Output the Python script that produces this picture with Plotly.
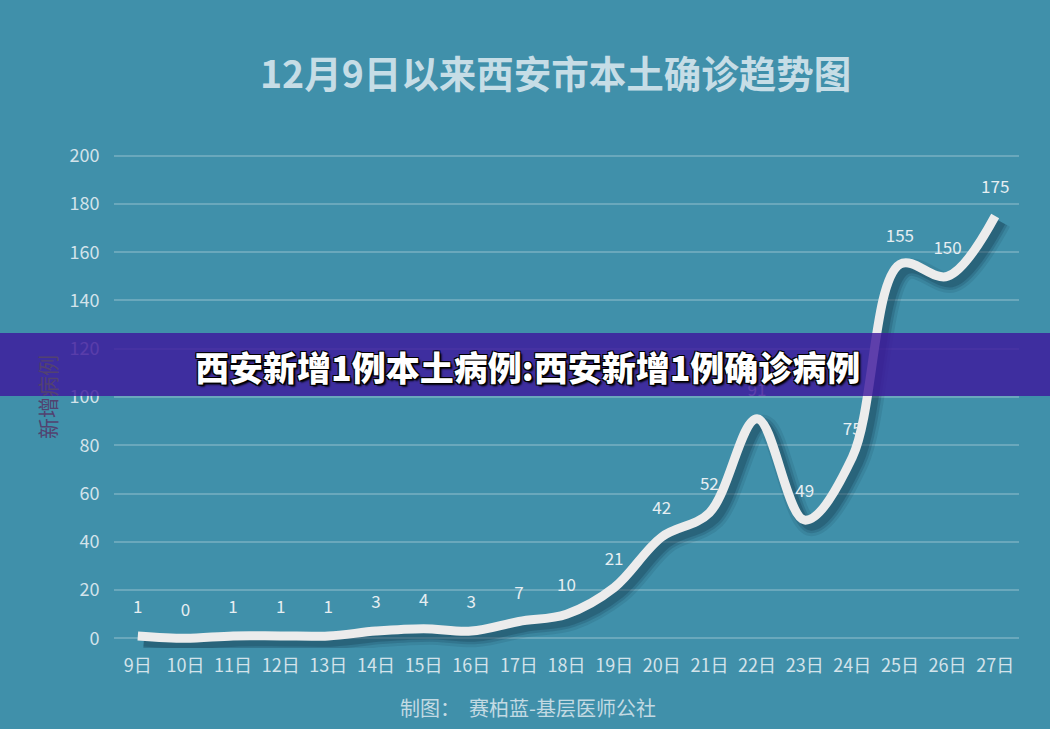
import plotly.graph_objects as go

# ---- data ----
dates = ["9日", "10日", "11日", "12日", "13日", "14日", "15日", "16日", "17日", "18日",
         "19日", "20日", "21日", "22日", "23日", "24日", "25日", "26日", "27日"]
cases = [1, 0, 1, 1, 1, 3, 4, 3, 7, 10, 21, 42, 52, 91, 49, 75, 155, 150, 175]
y_ticks = [0, 20, 40, 60, 80, 100, 120, 140, 160, 180, 200]

title_text = "12月9日以来西安市本土确诊趋势图"
banner_text = "西安新增1例本土病例:西安新增1例确诊病例"
ytitle_text = "新增病例"
credit_text = "制图：  赛柏蓝-基层医师公社"

# ---- layout geometry ----
W, H = 1050, 729
ML, MR, MT, MB = 114, 31, 146, 81
PW, PH = W - ML - MR, H - MT - MB
YR = [-4, 204]
XR = [-0.5, len(dates) - 0.5]
px_per_cat = PW / (XR[1] - XR[0])
px_per_unit = PH / (YR[1] - YR[0])
idx = list(range(len(dates)))


def px_x(p):
    return (p - ML) / PW


def px_y(p):
    return (H - MB - p) / PH


BG = "#4090aa"
FONT = "Noto Sans CJK SC"

fig = go.Figure()

# base subplot anchor (carries grid and tick labels)
fig.add_trace(go.Scatter(x=idx, y=cases, mode="lines", line=dict(width=0, color="rgba(0,0,0,0)"),
                         hoverinfo="skip", showlegend=False))

# soft shadow traces (offset axes)
sx, sy = 6 / px_per_cat, 6 / px_per_unit
for w, a in [(20, 0.10), (14, 0.16), (9, 0.22)]:
    fig.add_trace(go.Scatter(x=idx, y=cases, mode="lines",
                             line=dict(color=f"rgba(10,40,60,{a})", width=w, shape="spline", smoothing=1),
                             xaxis="x2", yaxis="y2", hoverinfo="skip", showlegend=False))

# value labels (offset axis, above points)
ty = 27 / px_per_unit
fig.add_trace(go.Scatter(x=idx, y=cases, mode="text",
                         text=[str(v) for v in cases], textposition="middle center",
                         textfont=dict(family=FONT, size=17, color="#e6eef2"),
                         xaxis="x3", yaxis="y3", hoverinfo="skip", showlegend=False,
                         cliponaxis=False))

# main line
fig.add_trace(go.Scatter(x=idx, y=cases, mode="lines",
                         line=dict(color="#ececec", width=9, shape="spline", smoothing=1),
                         xaxis="x4", yaxis="y4", showlegend=False))

hidden = dict(visible=False, showgrid=False, zeroline=False, fixedrange=True)

fig.update_layout(
    width=W, height=H,
    margin=dict(l=ML, r=MR, t=MT, b=MB),
    paper_bgcolor=BG, plot_bgcolor=BG,
    showlegend=False,
    xaxis=dict(range=XR, tickvals=idx, ticktext=dates,
               showgrid=False, zeroline=False, showline=False,
               ticks="outside", ticklen=1, tickcolor="rgba(0,0,0,0)",
               tickfont=dict(family=FONT, size=18, color="#d3e3ea")),
    yaxis=dict(range=YR, tickvals=y_ticks, showgrid=True,
               gridcolor="rgba(255,255,255,0.22)", gridwidth=1.5,
               zeroline=False, showline=False,
               ticks="outside", ticklen=10, tickcolor="rgba(0,0,0,0)",
               tickfont=dict(family=FONT, size=18, color="#d3e3ea")),
    xaxis2=dict(range=[XR[0] - sx, XR[1] - sx], overlaying="x", **hidden),
    yaxis2=dict(range=[YR[0] + sy, YR[1] + sy], overlaying="y", **hidden),
    xaxis3=dict(range=XR, overlaying="x", **hidden),
    yaxis3=dict(range=[YR[0] - ty, YR[1] - ty], overlaying="y", **hidden),
    xaxis4=dict(range=XR, overlaying="x", **hidden),
    yaxis4=dict(range=YR, overlaying="y", **hidden),
    shapes=[dict(type="rect", xref="paper", yref="paper", layer="above",
                 x0=px_x(0), x1=px_x(W), y0=px_y(396), y1=px_y(333),
                 fillcolor="rgba(62,25,156,0.82)", line=dict(width=0))],
    annotations=[
        dict(text=title_text, xref="paper", yref="paper", x=px_x(555), y=px_y(72),
             showarrow=False, xanchor="center", yanchor="middle",
             font=dict(family=FONT, size=37.5, color="#c6dde6", weight="bold")),
        dict(text=ytitle_text, xref="paper", yref="paper", x=px_x(47), y=px_y(397),
             showarrow=False, textangle=-90, xanchor="center", yanchor="middle",
             font=dict(family=FONT, size=21, color="#524270")),
        dict(text=credit_text, xref="paper", yref="paper", x=px_x(528), y=px_y(707),
             showarrow=False, xanchor="center", yanchor="middle",
             font=dict(family=FONT, size=20, color="#c3dae3")),
        dict(text=banner_text, xref="paper", yref="paper", x=px_x(527), y=px_y(366),
             showarrow=False, xanchor="center", yanchor="middle",
             font=dict(family=FONT, size=34, color="#ffffff", weight=900,
                       shadow="1px 1px 0 #000, -1px -1px 0 #000, 1px -1px 0 #000, -1px 1px 0 #000, 2px 2px 2px #000")),
    ],
)

fig.write_html("out.html")
